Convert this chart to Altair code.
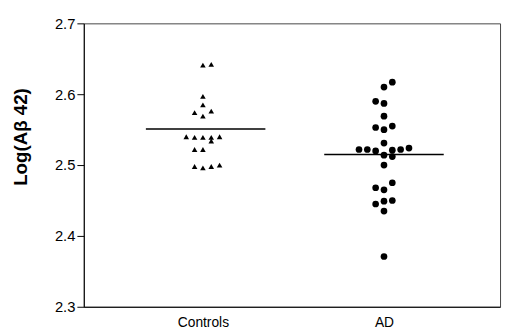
import altair as alt
import pandas as pd

# Controls (triangles): value, column offset
ctrl_vals = [2.641, 2.642, 2.597, 2.585, 2.574, 2.576, 2.569,
             2.540, 2.539, 2.539, 2.539, 2.540, 2.534,
             2.522, 2.522, 2.498, 2.496, 2.498, 2.500]
ctrl_cols = [0, 1, 0, 0, -1, 1, 0,
             -2, -1, 0, 1, 2, 1,
             -1, 0, -1, 0, 1, 2]

# AD (circles)
ad_vals = [2.617, 2.610, 2.590, 2.587, 2.569, 2.553, 2.550, 2.555,
           2.531, 2.522, 2.522, 2.520, 2.521, 2.522, 2.524,
           2.514, 2.512, 2.500, 2.475, 2.468, 2.465,
           2.445, 2.449, 2.450, 2.435, 2.371]
ad_cols = [1, 0, -1, 0, 0, -1, 0, 1,
           0, -3, -2, -1, 1, 2, 3,
           0, 1, 0, 1, -1, 0,
           -1, 0, 1, 0, 0]

groups = ["Controls", "AD"]
group_pos = [1, 2]
line_centers = [1.015, 2.0]
means = [2.551, 2.515]

step = 0.046
half = 0.33

ctrl = pd.DataFrame({"v": ctrl_vals, "x": [1 + c * step for c in ctrl_cols]})
ad = pd.DataFrame({"v": ad_vals, "x": [2 + c * step for c in ad_cols]})
mean_df = pd.DataFrame({"g": groups, "m": means,
                        "x1": [p - half for p in line_centers],
                        "x2": [p + half for p in line_centers]})

xscale = alt.Scale(domain=[0.342, 2.641])
yscale = alt.Scale(domain=[2.3, 2.7])

xaxis = alt.Axis(values=group_pos, ticks=False, grid=False, title=None,
                 labelExpr="datum.value == 1 ? 'Controls' : 'AD'",
                 labelFontSize=14, labelPadding=9, labelColor="black",
                 domainColor="black", labelFont="Liberation Sans")
yaxis = alt.Axis(values=[2.3, 2.4, 2.5, 2.6, 2.7], format=".1f", grid=False,
                 tickSize=7, tickColor="black", domainColor="black",
                 labelFontSize=15, labelColor="black", labelPadding=2,
                 labelFont="Liberation Sans",
                 title="Log(Aβ 42)", titleFontSize=19, titleFont="Liberation Sans",
                 titleFontWeight="bold", titleColor="black",
                 titleX=-54, titleY=115)

tri = alt.Chart(ctrl).mark_point(shape="triangle-up", filled=True, color="black",
                                  size=32, opacity=1).encode(
    x=alt.X("x:Q", scale=xscale, axis=xaxis),
    y=alt.Y("v:Q", scale=yscale, axis=yaxis),
)
dots = alt.Chart(ad).mark_circle(color="black", size=46, opacity=1).encode(
    x=alt.X("x:Q", scale=xscale),
    y=alt.Y("v:Q", scale=yscale),
)
rules = alt.Chart(mean_df).mark_rule(color="black", strokeWidth=1.5).encode(
    x=alt.X("x1:Q", scale=xscale),
    x2="x2:Q",
    y=alt.Y("m:Q", scale=yscale),
)

chart = alt.layer(rules, tri, dots).properties(
    width=423, height=288,
    autosize=alt.AutoSizeParams(type="none"),
    padding={"left": 77, "top": 13, "right": 3, "bottom": 21},
).configure_view(stroke="#444", strokeWidth=1)

chart.save("out.html", embed_options={"renderer": "svg", "actions": False})
